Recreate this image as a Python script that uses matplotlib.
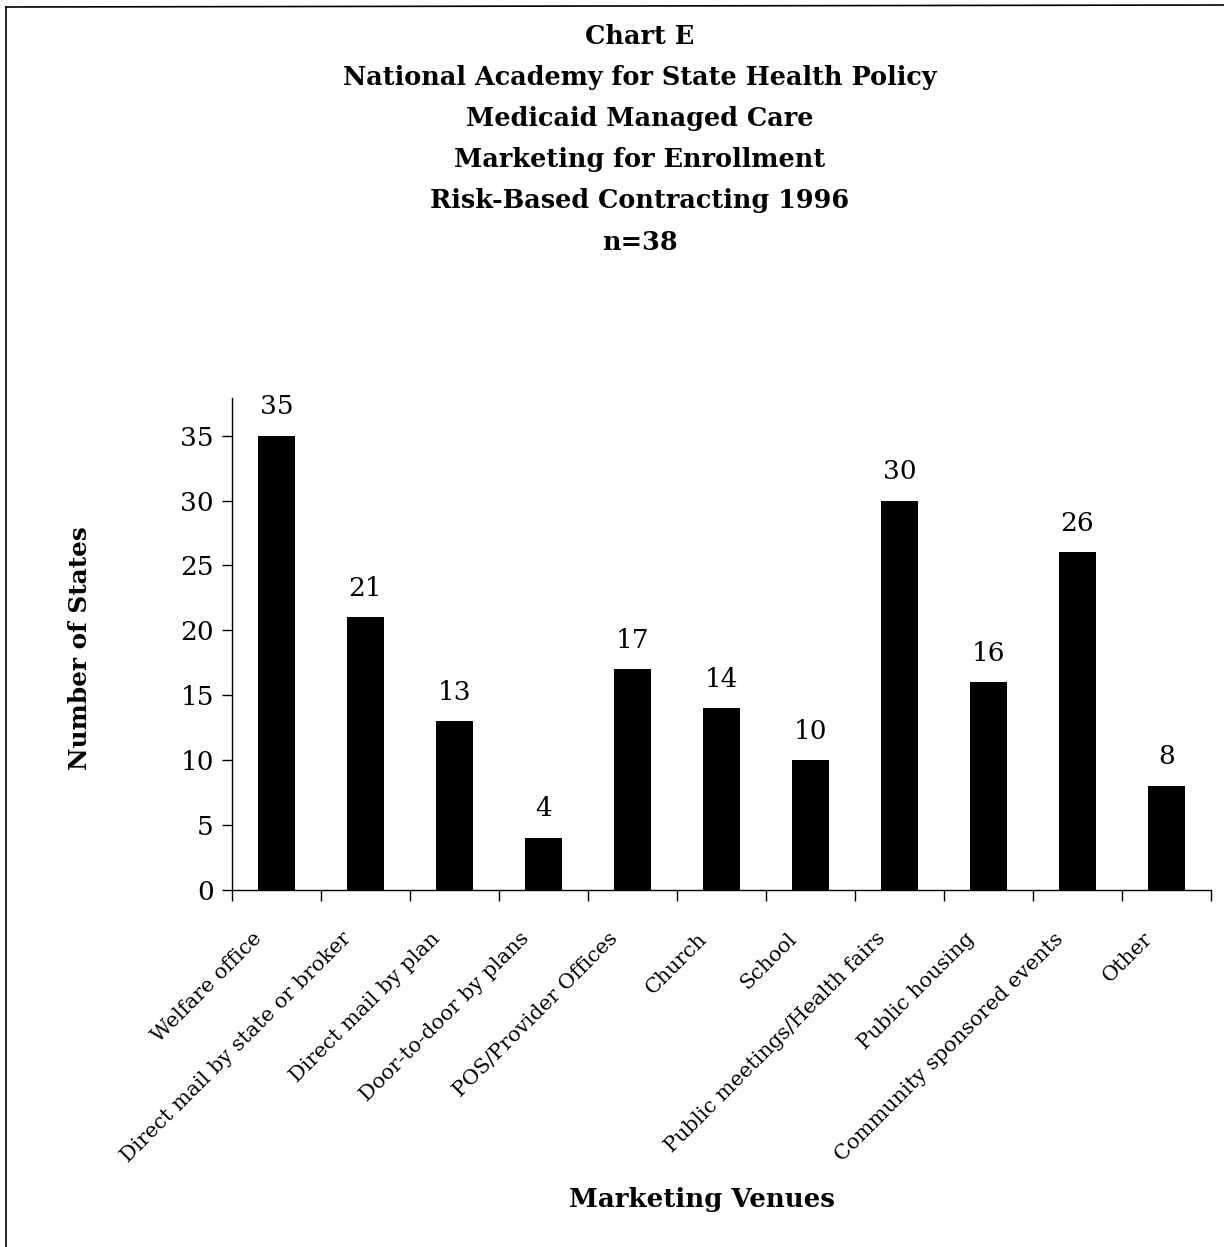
import numpy as np
import matplotlib
matplotlib.use("Agg")
import matplotlib.pyplot as plt
import matplotlib.transforms as mtrans
from matplotlib.lines import Line2D

venues = ["Welfare office", "Direct mail by state or broker", "Direct mail by plan",
          "Door-to-door by plans", "POS/Provider Offices", "Church", "School",
          "Public meetings/Health fairs", "Public housing", "Community sponsored events",
          "Other"]
states = [35, 21, 13, 4, 17, 14, 10, 30, 16, 26, 8]
yticks = [0, 5, 10, 15, 20, 25, 30, 35]
title_lines = ["Chart E", "National Academy for State Health Policy",
               "Medicaid Managed Care", "Marketing for Enrollment",
               "Risk-Based Contracting 1996", "n=38"]

plt.rcParams['font.family'] = ['DejaVu Serif']

W, H = 1224, 1247
fig = plt.figure(figsize=(W/100, H/100), dpi=100)
ax = fig.add_axes([232/W, 1-890/H, (1211-232)/W, (890-398)/H])

x = np.arange(len(venues))
ax.bar(x, states, width=0.42, color='black')
for xi, v in zip(x, states):
	ax.annotate(str(v), (xi, v), xytext=(0, 12), textcoords='offset points',
	            ha='center', va='bottom', fontsize=19)

ax.set_xlim(-0.5, len(venues)-0.5)
ax.set_ylim(0, 37.9)
ax.set_yticks(yticks)
ax.tick_params(axis='y', labelsize=19, length=7, width=1, pad=6)

# ticks between categories, labels at the category centres
ax.set_xticks(np.arange(len(venues)+1)-0.5)
ax.set_xticklabels([])
ax.set_xticks(x, minor=True)
ax.set_xticklabels(venues, minor=True, rotation=45, ha='right',
                   rotation_mode='anchor', fontsize=15)
ax.tick_params(axis='x', which='major', length=8, width=1)
ax.tick_params(axis='x', which='minor', length=0, pad=28)
shift = mtrans.ScaledTranslation(-0.24, 0, fig.dpi_scale_trans)
for lbl in ax.get_xticklabels(minor=True):
	lbl.set_transform(lbl.get_transform() + shift)

for s in ['top', 'right']:
	ax.spines[s].set_visible(False)
for s in ['left', 'bottom']:
	ax.spines[s].set_linewidth(1)

fig.text(80/W, 1-648/H, "Number of States", rotation=90, ha='center', va='center',
         fontsize=17.8, fontweight='bold')
fig.text(702/W, 1-1200/H, "Marketing Venues", ha='center', va='center',
         fontsize=18.7, fontweight='bold')

for i, line in enumerate(title_lines):
	fig.text(640/W, 1-(36+41.2*i)/H, line, ha='center', va='center',
	         fontsize=18.4, fontweight='bold')

# page frame (left and top edges only)
fig.add_artist(Line2D([6/W, 6/W], [0, 1-7/H], color='black', lw=1.2))
fig.add_artist(Line2D([6/W, 1], [1-7/H, 1-5/H], color='black', lw=1.2))

plt.savefig("out.png", dpi=100)
